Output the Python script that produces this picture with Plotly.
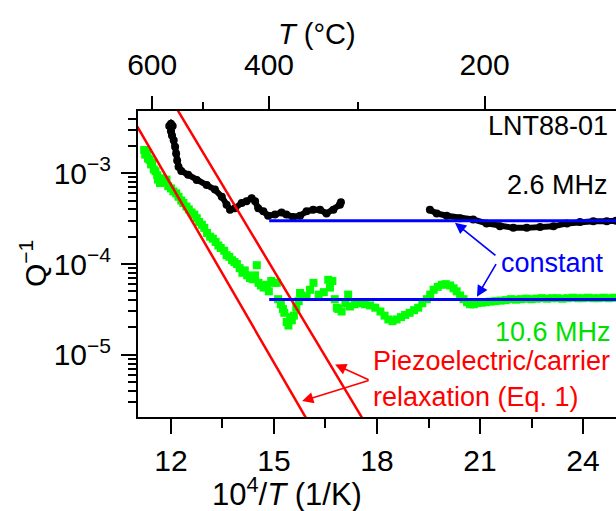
import plotly.graph_objects as go

# ---------------- data ----------------
X_RANGE = [11.04, 24.96]          # 10^4/T (1/K)
Y_LOG_RANGE = [-5.685, -2.315]    # log10(Q^-1)

# 2.6 MHz (black)
black_x = [11.95, 12.00, 12.05, 12.00, 12.03, 12.08, 12.12, 12.15, 12.18, 12.22, 12.30,
           12.50, 12.75, 13.04, 13.28, 13.48, 13.62, 13.72, 13.86, 14.06, 14.20, 14.35,
           14.45, 14.54, 14.69, 14.83, 15.03, 15.22, 15.36, 15.56, 15.76, 15.95, 16.14,
           16.34, 16.53, 16.73, 16.92, 16.95,
           None,
           19.54, 19.74, 20.03, 20.42, 20.80, 21.19, 21.58, 21.97, 22.36, 22.75, 23.14,
           23.53, 23.91, 24.30, 24.69, 24.96]
black_y = [3.3e-3, 3.5e-3, 3.3e-3, 2.9e-3, 2.6e-3, 2.3e-3, 1.95e-3, 1.65e-3, 1.38e-3, 1.18e-3, 1.06e-3,
           9.6e-4, 8.4e-4, 7.4e-4, 6.6e-4, 5.5e-4, 4.5e-4, 3.95e-4, 4.1e-4, 4.7e-4, 4.9e-4, 5.3e-4,
           4.9e-4, 4.1e-4, 3.8e-4, 3.4e-4, 3.5e-4, 3.7e-4, 3.5e-4, 3.3e-4, 3.4e-4, 3.8e-4, 3.95e-4,
           3.95e-4, 3.6e-4, 3.95e-4, 4.5e-4, 4.8e-4,
           None,
           3.95e-4, 3.6e-4, 3.4e-4, 3.2e-4, 3.1e-4, 2.8e-4, 2.6e-4, 2.5e-4, 2.5e-4, 2.55e-4, 2.6e-4,
           2.8e-4, 2.9e-4, 2.95e-4, 2.95e-4, 3.0e-4]

# 10.6 MHz (green)
green_x = [11.22, 11.25, 11.30, 11.33, 11.38, 11.42, 11.45, 11.50, 11.55, 11.60, 11.62, 11.68,
           11.75, 11.80, 11.87, 11.92, 12.00, 12.07, 12.15, 12.22, 12.30, 12.36, 12.45, 12.52,
           12.60, 12.68, 12.75, 12.82, 12.90, 12.97, 13.05, 13.14, 13.22, 13.30, 13.38, 13.45,
           13.55, 13.62, 13.70, 13.78, 13.85, 13.92, 14.00, 14.08, 14.15, 14.22, 14.30, 14.38,
           14.45, 14.50, 14.55, 14.62, 14.70, 14.79, 14.85, 14.92, 15.00, 15.08, 15.12, 15.20,
           15.26, 15.30, 15.37, 15.42, 15.47, 15.52, 15.58, 15.65, 15.72, 15.76, 15.80, 15.95,
           16.05, 16.15, 16.30, 16.45, 16.58, 16.63, 16.70, 16.77, 16.83, 16.87, 16.97, 17.08,
           17.16, 17.21, 17.35, 17.50, 17.65, 17.80, 17.95, 18.10, 18.22, 18.33, 18.45, 18.57,
           18.70, 18.82, 18.95, 19.08, 19.20, 19.32, 19.45, 19.55, 19.65, 19.77, 19.89, 20.00,
           20.13, 20.23, 20.32, 20.42, 20.52, 20.62, 20.71, 20.82, 20.92, 21.05, 21.18, 21.30,
           21.45, 21.60, 21.75, 21.90, 22.05, 22.20, 22.35, 22.50, 22.65, 22.80, 22.95, 23.10,
           23.25, 23.40, 23.55, 23.70, 23.85, 24.00, 24.15, 24.30, 24.45, 24.60, 24.75, 24.90]
green_y = [1.8e-3, 1.6e-3, 1.7e-3, 1.45e-3, 1.4e-3, 1.25e-3, 1.3e-3, 1.1e-3, 1.05e-3, 9.5e-4, 8.5e-4, 7.8e-4,
           8.8e-4, 8.0e-4, 8.5e-4, 7.2e-4, 6.8e-4, 6.3e-4, 6.0e-4, 5.5e-4, 5.0e-4, 4.7e-4, 4.3e-4, 4.0e-4,
           3.7e-4, 3.5e-4, 3.2e-4, 2.9e-4, 2.7e-4, 2.5e-4, 2.2e-4, 2.0e-4, 1.9e-4, 1.75e-4, 1.6e-4, 1.5e-4,
           1.4e-4, 1.25e-4, 1.2e-4, 1.1e-4, 1.05e-4, 1.0e-4, 9.0e-5, 8.0e-5, 8.5e-5, 7.5e-5, 7.0e-5, 6.8e-5,
           7.5e-5, 9.7e-5, 6.2e-5, 5.8e-5, 5.5e-5, 5.9e-5, 5.0e-5, 6.5e-5, 6.2e-5, 6.2e-5, 4.1e-5, 3.6e-5,
           3.2e-5, 2.9e-5, 2.3e-5, 2.1e-5, 2.6e-5, 2.4e-5, 2.7e-5, 3.3e-5, 3.9e-5, 4.8e-5, 4.5e-5, 4.4e-5,
           5.2e-5, 6.2e-5, 4.6e-5, 4.9e-5, 6.7e-5, 5.5e-5, 6.5e-5, 4.1e-5, 3.3e-5, 3.2e-5, 3.0e-5, 3.7e-5,
           4.6e-5, 3.4e-5, 3.6e-5, 3.7e-5, 3.6e-5, 3.5e-5, 3.3e-5, 3.0e-5, 2.7e-5, 2.45e-5, 2.35e-5, 2.45e-5,
           2.6e-5, 2.75e-5, 2.9e-5, 3.1e-5, 3.3e-5, 3.7e-5, 4.1e-5, 4.6e-5, 5.2e-5, 5.6e-5, 5.9e-5, 6.0e-5,
           5.8e-5, 5.4e-5, 5.0e-5, 4.5e-5, 4.1e-5, 3.8e-5, 3.6e-5, 3.6e-5, 3.7e-5, 3.75e-5, 3.8e-5, 3.85e-5,
           3.9e-5, 3.95e-5, 4.0e-5, 4.1e-5, 4.05e-5, 4.1e-5, 4.15e-5, 4.1e-5, 4.15e-5, 4.2e-5, 4.15e-5, 4.2e-5,
           4.2e-5, 4.15e-5, 4.2e-5, 4.25e-5, 4.2e-5, 4.2e-5, 4.25e-5, 4.2e-5, 4.2e-5, 4.25e-5, 4.2e-5, 4.25e-5]

# constant background loss (blue)
const_x = [14.86, 25.20]
const_26_y = [3.0e-4, 3.0e-4]
const_106_y = [4.06e-5, 4.06e-5]

# piezoelectric / carrier relaxation (red, Eq. 1)
relax1_x = [11.00, 16.00]
relax1_y = [3.36e-3, 1.82e-6]
relax2_x = [12.10, 17.65]
relax2_y = [5.67e-3, 1.79e-6]

# ticks
bottom_ticks = [12, 15, 18, 21, 24]
top_major_C = [600, 400, 200]
top_minor_C = [500, 300]
y_major = [1e-5, 1e-4, 1e-3]
y_major_text = ["10<sup>\u22125</sup>", "10<sup>\u22124</sup>", "10<sup>\u22123</sup>"]
y_minor = [m * 10.0 ** e for e in (-6, -5, -4, -3) for m in range(2, 10)]

# ---------------- figure ----------------
FONT = "Liberation Sans, Arial, sans-serif"
W, H = 616, 511
ML, MR, MT, MB = 138, 0, 111, 94
PW, PH = W - ML - MR, H - MT - MB


def px(xp):
    return (xp - ML) / PW


def py(yp):
    return (H - MB - yp) / PH


GREEN = "#00ff00"
fig = go.Figure()
fig.add_trace(go.Scatter(x=green_x, y=green_y, mode="markers",
                         marker=dict(symbol="square", size=8, color=GREEN), showlegend=False))
fig.add_trace(go.Scatter(x=black_x, y=black_y, mode="lines+markers",
                         line=dict(color="black", width=6),
                         marker=dict(symbol="circle", size=8, color="black"), showlegend=False))
for rx, ry in ((relax1_x, relax1_y), (relax2_x, relax2_y)):
    fig.add_trace(go.Scatter(x=rx, y=ry, mode="lines", line=dict(color="#ff0000", width=2.5),
                             showlegend=False))
for cy in (const_26_y, const_106_y):
    fig.add_trace(go.Scatter(x=const_x, y=cy, mode="lines", line=dict(color="#0000ff", width=3),
                             showlegend=False))
# dummy trace to carry top axis
fig.add_trace(go.Scatter(x=X_RANGE, y=[1e-4, 1e-4], xaxis="x2", mode="markers",
                         marker=dict(opacity=0), showlegend=False, hoverinfo="skip"))

top_major_pos = [1e4 / (c + 273.15) for c in top_major_C]
top_minor_pos = [1e4 / (c + 273.15) for c in top_minor_C]

axis_common = dict(showline=True, linecolor="black", linewidth=2, ticks="outside",
                   tickcolor="black", tickwidth=2, showgrid=False, zeroline=False,
                   tickfont=dict(family=FONT, size=30, color="black"))

fig.update_layout(
    width=W, height=H, margin=dict(l=ML, r=MR, t=MT, b=MB, pad=0),
    paper_bgcolor="white", plot_bgcolor="white",
    font=dict(family=FONT, size=27, color="black"),
    xaxis=dict(range=X_RANGE, tickvals=bottom_ticks, ticklen=15, ticklabelstandoff=1,
               minor=dict(ticks="outside", dtick=1.5, tick0=10.5, ticklen=9, tickwidth=2,
                          tickcolor="black"),
               **axis_common),
    xaxis2=dict(range=X_RANGE, overlaying="x", side="top", anchor="y",
                tickvals=top_major_pos, ticktext=[str(c) for c in top_major_C], ticklen=13,
                ticklabelstandoff=9,
                minor=dict(ticks="outside", tickvals=top_minor_pos, ticklen=7, tickwidth=2,
                           tickcolor="black"),
                **axis_common),
    yaxis=dict(type="log", range=Y_LOG_RANGE, tickvals=y_major, ticktext=y_major_text,
               ticklen=15, ticklabelstandoff=4,
               minor=dict(ticks="outside", tickvals=y_minor, ticklen=8, tickwidth=2,
                          tickcolor="black"),
               **axis_common),
)

ann = []
# axis titles
ann.append(dict(text="10<sup>4</sup>/<i>T</i> (1/K)", x=px(287), y=py(492), xref="paper", yref="paper",
                showarrow=False, xanchor="center", yanchor="middle", font=dict(size=31)))
ann.append(dict(text="<i>T</i> (\u00b0C)", x=px(317), y=py(34), xref="paper", yref="paper",
                showarrow=False, xanchor="center", yanchor="middle", font=dict(size=29)))
ann.append(dict(text="Q<sup>\u22121</sup>", x=px(33), y=py(264), xref="paper", yref="paper",
                showarrow=False, xanchor="center", yanchor="middle", textangle=-90,
                font=dict(size=30)))
# labels
ann.append(dict(text="LNT88-01", x=px(610), y=py(126), xref="paper", yref="paper",
                showarrow=False, xanchor="right", yanchor="middle"))
ann.append(dict(text="2.6 MHz", x=px(610), y=py(185), xref="paper", yref="paper",
                showarrow=False, xanchor="right", yanchor="middle"))
ann.append(dict(text="constant", x=px(499), y=py(263), xref="paper", yref="paper",
                showarrow=False, xanchor="left", yanchor="middle", font=dict(color="#0000ff")))
ann.append(dict(text="10.6 MHz", x=px(613), y=py(332), xref="paper", yref="paper",
                showarrow=False, xanchor="right", yanchor="middle", font=dict(color="#00e000")))
ann.append(dict(text="Piezoelectric/carrier", x=px(371), y=py(361), xref="paper", yref="paper",
                showarrow=False, xanchor="left", yanchor="middle", font=dict(color="#ff0000")))
ann.append(dict(text="relaxation (Eq. 1)", x=px(371), y=py(397), xref="paper", yref="paper",
                showarrow=False, xanchor="left", yanchor="middle", font=dict(color="#ff0000")))
# arrows (tip in data coords, tail offset in pixels); y on log axis given as log10
arrow_common = dict(xref="x", yref="y", text="", showarrow=True, arrowhead=2, arrowsize=1.4,
                    arrowwidth=1.6)
ann.append(dict(x=20.27, y=-3.545, ax=42, ay=34, arrowcolor="#0000ff", **arrow_common))
ann.append(dict(x=20.91, y=-4.36, ax=20, ay=-34, arrowcolor="#0000ff", **arrow_common))
ann.append(dict(x=16.78, y=-5.107, ax=35, ay=16, arrowcolor="#ff0000", **arrow_common))
ann.append(dict(x=15.82, y=-5.51, ax=68, ay=-21, arrowcolor="#ff0000", **arrow_common))
fig.update_layout(annotations=ann)

fig.write_html("out.html")
